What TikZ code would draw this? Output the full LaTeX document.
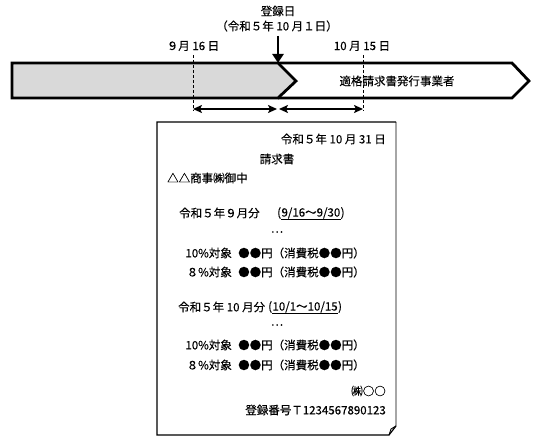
\documentclass[tikz,border=0pt]{standalone}
\usepackage{fontspec}
\setmainfont{Noto Sans CJK JP}[FakeBold=0.3]
\usetikzlibrary{arrows.meta}
\definecolor{bandgrey}{HTML}{D9D9D9}
\definecolor{edgegrey}{HTML}{A6A6A6}
\begin{document}
\begin{tikzpicture}[x=1pt,y=-1pt,
  txt/.style={inner sep=0pt, font=\fontsize{11.5}{13}\selectfont},
  band/.style={line width=2.8pt, line join=miter},
  guide/.style={line width=0.8pt, dash pattern=on 3pt off 2pt},
  span/.style={line width=2pt, {Stealth[length=9pt,width=8pt,inset=2pt]}-{Stealth[length=9pt,width=8pt,inset=2pt]}},
  uline/.style={line width=1.5pt},
  paper/.style={line width=1.2pt}]
\useasboundingbox (0,0) rectangle (541,444);

% header labels
\node[txt] (reg) at (278,11) {登録日};
\node[txt] (regdate) at (277,26) {（令和５年 10 月１日）};
\node[txt] (d916) at (193,46) {９月 16 日};
\node[txt] (d1015) at (362,46) {10 月 15 日};

% timeline band
\coordinate (gA) at (12,63);
\coordinate (gB) at (278,63);
\coordinate (gT) at (296,81);
\coordinate (gC) at (278,98);
\coordinate (gD) at (12,98);
\coordinate (wB) at (512,63);
\coordinate (wT) at (529,81);
\coordinate (wC) at (512,98);
\draw[band, fill=bandgrey] (gA) -- (gB) -- (gT) -- (gC) -- (gD) -- cycle;
\draw[band] (gB) -- (wB) -- (wT) -- (wC) -- (gC);
\node[txt] (qual) at (397,81) {適格請求書発行事業者};

% registration arrow
\coordinate (arrTop) at (278,36);
\draw[line width=2.6pt, -{Triangle[length=9pt,width=11pt]}] (arrTop) -- (gB);

% dashed guides
\coordinate (g1t) at (193,55);
\coordinate (g1b) at (193,111);
\coordinate (g2t) at (363,55);
\coordinate (g2b) at (363,111);
\draw[guide] (g1t) -- (g1b);
\draw[guide] (g2t) -- (g2b);

% period arrows
\coordinate (s1) at (193,109);
\coordinate (s2) at (277,109);
\coordinate (s3) at (279,109);
\coordinate (s4) at (363,109);
\draw[span] (s1) -- (s2);
\draw[span] (s3) -- (s4);

% invoice paper
\coordinate (pTL) at (157,122);
\coordinate (pTR) at (396,122);
\coordinate (pRB) at (396,426);
\coordinate (pBR) at (389,435);
\coordinate (pBL) at (157,435);
\coordinate (pF) at (391,429);
\draw[paper, edgegrey] (pTR) -- (pRB);
\draw[paper] (pTR) -- (pTL) -- (pBL) -- (pBR) -- (pRB);
\draw[line width=0.9pt] (pBR) -- (pF) -- (pRB);

% invoice text
\node[txt, anchor=east] (date) at (386,139) {令和５年 10 月 31 日};
\node[txt] (title) at (277,159) {請求書};
\node[txt, anchor=west] (dest) at (167,178) {△△商事㈱御中};

\node[txt, anchor=west] (sep) at (179,213) {令和５年９月分};
\node[txt, anchor=west] (o1) at (277,213) {(};
\node[txt, anchor=base west] (u1) at (o1.base east) {9/16～9/30};
\node[txt, anchor=base west] (c1) at (u1.base east) {)};
\draw[uline] ([yshift=-3pt]u1.base west) -- ([yshift=-3pt]u1.base east);
\node[txt] (dots1) at (277,232) {…};
\node[txt, anchor=east] (s10a) at (232,253) {10\%対象};
\node[txt, anchor=west] (s10b) at (238,253) {●●円（消費税●●円）};
\node[txt, anchor=east] (s8a) at (232,272) {８\%対象};
\node[txt, anchor=west] (s8b) at (238,272) {●●円（消費税●●円）};

\node[txt, anchor=west] (oct) at (178,307) {令和５年 10 月分};
\node[txt, anchor=west] (o2) at (268,307) {(};
\node[txt, anchor=base west] (u2) at (o2.base east) {10/1～10/15};
\node[txt, anchor=base west] (c2) at (u2.base east) {)};
\draw[uline] ([yshift=-3pt]u2.base west) -- ([yshift=-3pt]u2.base east);
\node[txt] (dots2) at (277,325) {…};
\node[txt, anchor=east] (t10a) at (232,345) {10\%対象};
\node[txt, anchor=west] (t10b) at (238,345) {●●円（消費税●●円）};
\node[txt, anchor=east] (t8a) at (232,365) {８\%対象};
\node[txt, anchor=west] (t8b) at (238,365) {●●円（消費税●●円）};

\node[txt, anchor=east] (co) at (386,391) {㈱○○};
\node[txt, anchor=east] (regno) at (386,410) {登録番号Ｔ1234567890123};
\end{tikzpicture}
\end{document}
